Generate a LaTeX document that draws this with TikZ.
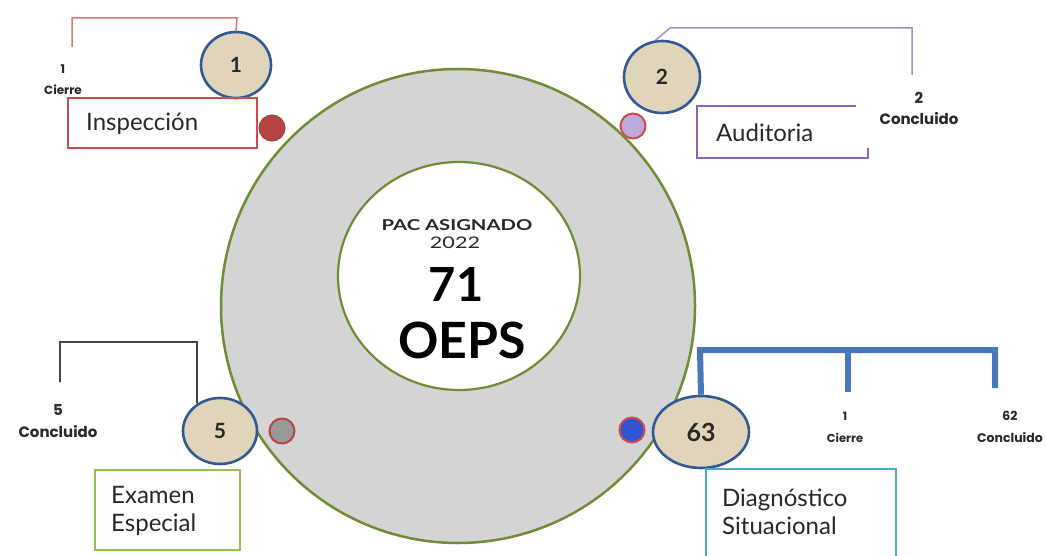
\documentclass[tikz,border=0pt]{standalone}
\usepackage{fontspec}
\setmainfont{Lato}
\newfontfamily\widesf[FakeStretch=1.35]{Lato}
\newfontfamily\popsf{Poppins}
\usetikzlibrary{shapes.geometric}
\definecolor{ringgreen}{RGB}{112,140,52}
\definecolor{ringgray}{RGB}{212,212,212}
\definecolor{badgefill}{RGB}{224,212,186}
\definecolor{badgeline}{RGB}{52,88,150}
\definecolor{inspred}{RGB}{205,75,75}
\definecolor{insplink}{RGB}{215,120,120}
\definecolor{audpurple}{RGB}{140,100,190}
\definecolor{audlink}{RGB}{165,145,205}
\definecolor{exgreen}{RGB}{145,192,85}
\definecolor{diagcyan}{RGB}{75,168,200}
\definecolor{diagblue}{RGB}{72,120,188}
\definecolor{darklink}{RGB}{70,70,70}
\definecolor{txt}{RGB}{40,40,40}
\tikzset{
  badge/.style={ellipse, draw=badgeline, line width=2.6pt, fill=badgefill, inner sep=0pt, font=\bfseries\fontsize{21}{21}\selectfont, text=txt},
  dot/.style={circle, line width=2pt, minimum size=25pt, inner sep=0pt},
  boxlabel/.style={anchor=west, align=left, inner sep=0pt, font=\fontsize{24}{28}\selectfont, text=txt},
  small/.style={align=center, inner sep=0pt, text=txt},
  thinbox/.style={inner sep=0pt, line width=1.8pt}
}
\begin{document}
\begin{tikzpicture}[x=1pt,y=-1pt]
\path[use as bounding box, fill=white] (0,0) rectangle (1046,556);
% rings
\node[circle, draw=ringgreen, line width=2.5pt, fill=ringgray, minimum size=474pt, inner sep=0pt] (outer) at (458,306) {};
\node[ellipse, draw=ringgreen, line width=2.2pt, fill=white, minimum width=242pt, minimum height=228pt, inner sep=0pt] (inner) at (459,276) {};
\node[inner sep=0pt, font=\widesf\bfseries\fontsize{15}{15}\selectfont, text=txt] (pac) at (457,225) {PAC ASIGNADO};
\node[inner sep=0pt, font=\widesf\fontsize{16}{16}\selectfont, text=txt] (year) at (455,243) {2022};
\node[inner sep=0pt, font=\bfseries\fontsize{47}{47}\selectfont, text=black] (num) at (456,284) {71};
\node[inner sep=0pt, font=\bfseries\fontsize{50}{50}\selectfont, text=black] (oeps) at (462,340) {OEPS};
% dots on ring
\node[dot, draw=inspred!85!black, fill=inspred!90!black] (d1) at (272,128) {};
\node[dot, draw=inspred, fill=audpurple!55] (d2) at (633,126) {};
\node[dot, draw=inspred!90!black, fill=gray!80] (d3) at (282,431) {};
\node[dot, draw=inspred, fill=diagblue!70!blue] (d4) at (632,430) {};
% badges
\node[badge, minimum width=70pt, minimum height=66pt] (b1) at (236,65) {1};
\node[badge, minimum width=76pt, minimum height=72pt] (b2) at (662,77) {2};
\node[badge, minimum width=74pt, minimum height=66pt] (b5) at (220,431) {5};
\node[badge, minimum width=96pt, minimum height=72pt, font=\bfseries\fontsize{25}{25}\selectfont] (b63) at (701,432) {63};
% boxes
\node[thinbox, draw=inspred, minimum width=189pt, minimum height=50pt] (insp) at (162.5,123) {};
\node[boxlabel] (insplbl) at (86,124) {Inspección};
\node[thinbox, minimum width=169pt, minimum height=50pt] (aud) at (782.5,132) {};
\draw[audpurple, line width=1.8pt] ([xshift=-12pt]aud.north east) -- (aud.north west) -- (aud.south west) -- (aud.south east) -- ([yshift=10pt]aud.south east);
\node[boxlabel] (audlbl) at (716,133) {Auditoria};
\node[thinbox, draw=exgreen, line width=2.4pt, minimum width=145pt, minimum height=80pt] (exam) at (167.5,510) {};
\node[boxlabel] (examlbl) at (111,511) {Examen\\Especial};
\node[thinbox, minimum width=188pt, minimum height=92pt] (diag) at (801,516) {};
\draw[diagcyan, line width=2.4pt] (diag.south west) -- (diag.north west) -- (diag.north east) -- (diag.south east);
\node[boxlabel] (diaglbl) at (722,512) {Diagnóstico\\Situacional};
% small labels
\node[small, font=\popsf\bfseries\fontsize{12}{21}\selectfont] (l1) at (63,80) {1\\Cierre};
\node[small, font=\popsf\bfseries\fontsize{15}{21}\selectfont] (l2) at (919,108) {2\\Concluido};
\node[small, font=\popsf\bfseries\fontsize{15}{22}\selectfont] (l5) at (58,421) {5\\Concluido};
\node[small, font=\popsf\bfseries\fontsize{11.5}{22}\selectfont] (l63a) at (845,427) {1\\Cierre};
\node[small, font=\popsf\bfseries\fontsize{12.5}{22}\selectfont] (l63b) at (1010,427) {62\\Concluido};
% connectors
\coordinate (k1a) at (237,18);
\coordinate (k1b) at (72,47);
\draw[insplink, line width=1.5pt] (b1.north) -- (k1a) -| (k1b);
\coordinate (k2a) at (670,28);
\coordinate (k2b) at (912,75);
\draw[audlink, line width=1.5pt] (b2.100) -- (k2a) -| (k2b);
\coordinate (k5a) at (197,342);
\coordinate (k5b) at (60,382);
\draw[darklink, line width=1.6pt] (b5.130) -- (k5a) -| (k5b);
\coordinate (k63a) at (700,350);
\coordinate (k63b) at (995,388);
\coordinate (k63c) at (848,350);
\coordinate (k63d) at (848,392);
\draw[diagblue, line width=6pt] (b63.north) -- (k63a) -| (k63b);
\draw[diagblue, line width=6pt] (k63c) -- (k63d);
\end{tikzpicture}
\end{document}
